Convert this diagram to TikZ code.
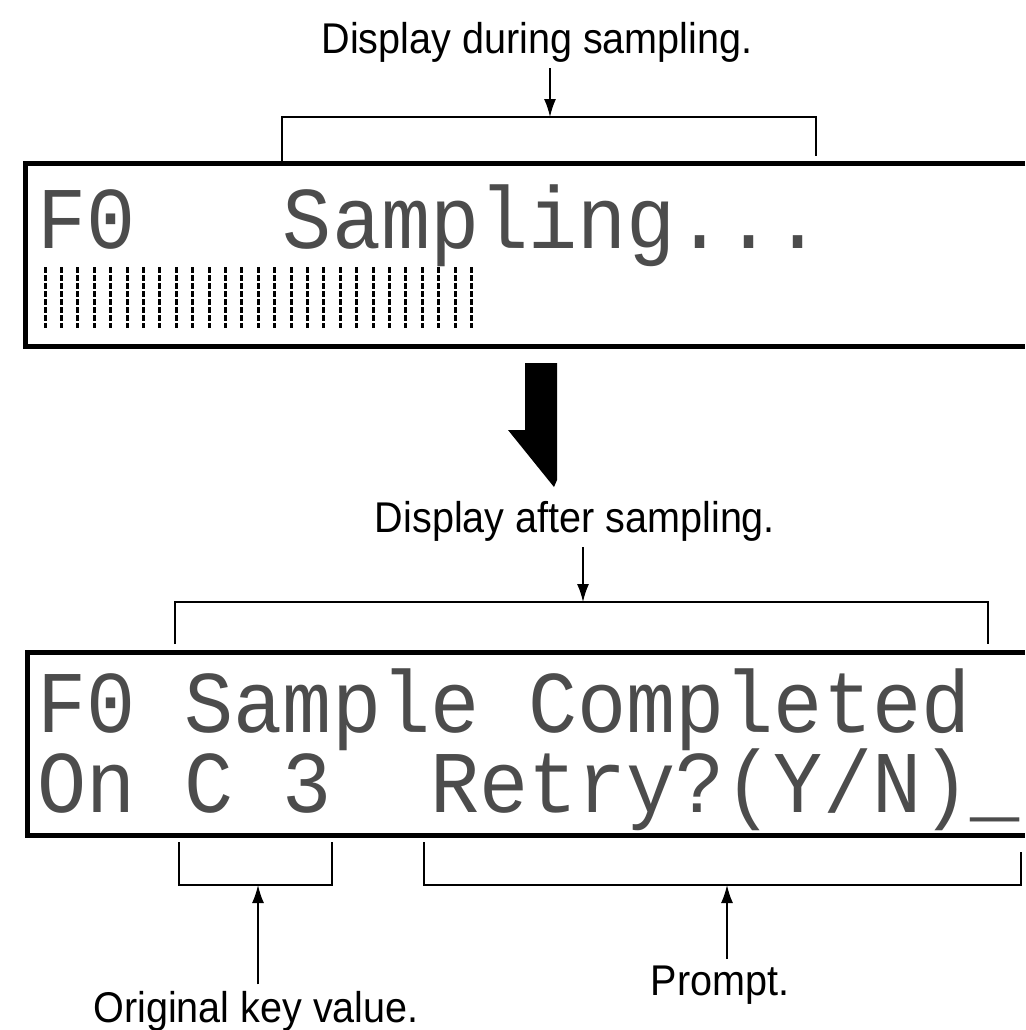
\documentclass[tikz,border=0pt]{standalone}
\usepackage{fontspec}
\usetikzlibrary{arrows.meta}
\newfontfamily\lblfont[FakeStretch=0.92]{Liberation Sans}
\newfontfamily\lcdfont[FakeStretch=0.93]{Liberation Mono}

\begin{document}
\begin{tikzpicture}[x=0.5pt,y=-0.5pt,
  lbl/.style={font=\lblfont\fontsize{21.5}{24}\selectfont,inner sep=3pt},
  lcd/.style={font=\lcdfont\fontsize{44}{48}\selectfont,text=black!70,inner sep=0pt,anchor=base west},
  frame/.style={line width=2.5pt},
  brk/.style={line width=1pt},
  tip/.style={line width=0.8pt,-{Latex[length=9pt,width=6pt]}}]
  \useasboundingbox (0,0) rectangle (1025,1030);
  % display during sampling
  \node[lbl,anchor=base] (during) at (537,53) {Display during sampling.};
  \coordinate (brkone) at (550,117);
  \draw[brk] (282,161) -- (282,117) -- (816,117) -- (816,156);
  \draw[tip] (brkone |- during.south) -- (brkone);
  \draw[frame] (1025,163) -- (25,163) -- (25,346) -- (1025,346);
  \node[lcd] (lcdone) at (37,248) {F0~~~Sampling...};
  \foreach \i in {0,...,26}
    \draw[line width=1.5pt,dash pattern=on 3pt off 1pt] ({45+16.4*\i},267) -- ({45+16.4*\i},328);
  % big arrow
  \fill (525,363) -- (557,363) -- (557,480) -- (554,487) -- (508,430) -- (525,430) -- cycle;
  % display after sampling
  \node[lbl,anchor=base] (after) at (575,532) {Display after sampling.};
  \coordinate (brktwo) at (583,602);
  \draw[brk] (175,644) -- (175,602) -- (988,602) -- (988,644);
  \draw[tip] (brktwo |- after.south) -- (brktwo);
  \draw[frame] (1025,652) -- (27,652) -- (27,835) -- (1025,835);
  \node[lcd] (lcdtwo) at (37,732) {F0 Sample Completed};
  \node[lcd] (lcdthree) at (37,812) {On C 3~~Retry?(Y/N)\_};
  % key value and prompt
  \draw[brk] (179,842) -- (179,885) -- (332,885) -- (332,842);
  \draw[brk] (424,842) -- (424,885) -- (1021,885) -- (1021,852);
  \coordinate (brkkey) at (258,885);
  \coordinate (brkprompt) at (727,885);
  \node[lbl,anchor=base] (key) at (256,1022) {Original key value.};
  \node[lbl,anchor=base] (prompt) at (720,995) {Prompt.};
  \draw[tip] (brkkey |- key.north) -- (brkkey);
  \draw[tip] (brkprompt |- prompt.north) -- (brkprompt);
\end{tikzpicture}
\end{document}
